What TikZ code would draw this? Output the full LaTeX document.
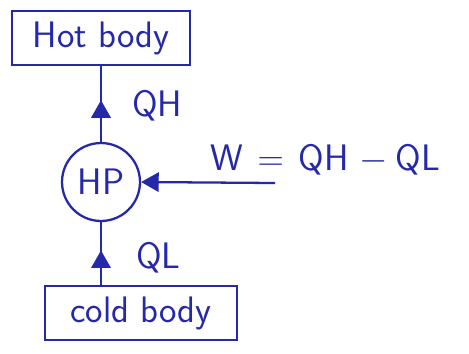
\documentclass[tikz,border=0pt]{standalone}
\usetikzlibrary{arrows.meta,decorations.markings}
\definecolor{ink}{RGB}{38,40,170}

\begin{document}
\begin{tikzpicture}[
                x=0.02cm, y=-0.02cm,
                every node/.style={font=\sffamily\fontsize{21}{25}\selectfont, text=ink},
                bodybox/.style={rectangle, draw=ink, line width=1.3pt, minimum height=1.08cm},
                pumpcircle/.style={circle, draw=ink, line width=1.3pt, minimum size=1.56cm, inner sep=0pt},
                flow/.style={line width=1.3pt, draw=ink, postaction={decorate}, decoration={markings,
                    mark=at position 0.55 with {\arrow{Triangle[width=11pt,length=10pt]}}}},
                work/.style={line width=1.3pt, draw=ink, -{Triangle[width=11pt,length=10pt]}}
            ]
                \useasboundingbox (0,0) rectangle (469,353);

                % Reservoirs and heat pump
                \node[bodybox, minimum width=3.56cm] (hot) at (101,38) {Hot body};
                \node[pumpcircle] (hp) at (101,182) {HP};
                \node[bodybox, minimum width=3.84cm] (cold) at (141,313) {cold body};

                % Heat flows
                \draw[flow] (hp.north) -- (hot.south);
                \draw[flow] (hp.south |- cold.north) -- (hp.south);

                % Work input
                \coordinate (win) at (275,183);
                \draw[work] (win) -- (hp.east);

                % Labels
                \node[anchor=west] (qh) at (126,106) {QH};
                \node[anchor=west] (ql) at (130,258) {QL};
                \node[anchor=west] (wlabel) at (204,160)
                    {W\hspace{0.4em}$=$\hspace{0.4em}QH\hspace{0.3em}$-$\hspace{0.2em}QL};
            \end{tikzpicture}
\end{document}
